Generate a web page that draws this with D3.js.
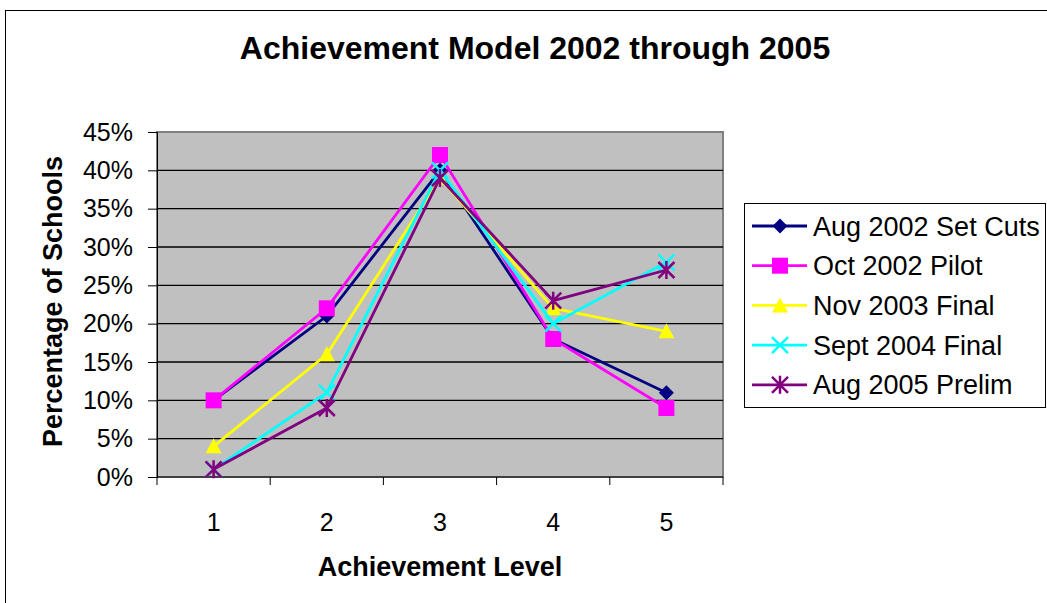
<!DOCTYPE html>
<html lang="en">
<head>
<meta charset="utf-8"/>
<title>Achievement Model</title>
<script src="https://d3js.org/d3.v7.min.js"></script>
<style>
  body { margin: 0; background: #fff; }
  svg text { font-family: "Liberation Sans", Arial, sans-serif; fill: #000; }
  .grid line { stroke: #000; stroke-width: 1.3px; }
  .axis .domain { stroke: #000; }
  .axis line { stroke: #000; }
</style>
</head>
<body>
<div id="chart"></div>
<script>
// data
var levels = ["1", "2", "3", "4", "5"];
var seriesNames = ["Aug 2002 Set Cuts", "Oct 2002 Pilot", "Nov 2003 Final", "Sept 2004 Final", "Aug 2005 Prelim"];
var aug2002 = [10, 21, 40, 18, 11];
var oct2002 = [10, 22, 42, 18, 9];
var nov2003 = [4, 16, 39, 22, 19];
var sep2004 = [1, 11, 40, 20, 28];
var aug2005 = [1, 9, 39, 23, 27];
var yTicks = [0, 5, 10, 15, 20, 25, 30, 35, 40, 45];

var colors = ["#000080", "#ff00ff", "#ffff00", "#00ffff", "#800080"];
var shapes = ["diamond", "square", "triangle", "x", "star"];
var allValues = [aug2002, oct2002, nov2003, sep2004, aug2005];

var series = seriesNames.map(function(n, i) {
  return { name: n, values: allValues[i], color: colors[i], shape: shapes[i] };
});

var width = 1047, height = 603;
var m = { top: 132, left: 157, right: 324, bottom: 126 };
var w = width - m.left - m.right,
    h = height - m.top - m.bottom;

var svg = d3.select("#chart").append("svg")
  .attr("width", width)
  .attr("height", height);

// outer chart border
svg.append("rect")
  .attr("x", 5.5).attr("y", 10.5)
  .attr("width", 1100).attr("height", 700)
  .attr("fill", "#fff").attr("stroke", "#000");

svg.append("text")
  .attr("x", 535).attr("y", 59)
  .attr("text-anchor", "middle")
  .attr("font-size", 32).attr("font-weight", "bold")
  .text("Achievement Model 2002 through 2005");

var g = svg.append("g").attr("transform", "translate(" + m.left + "," + m.top + ")");

var x = d3.scaleBand().domain(levels).range([0, w]);
var y = d3.scaleLinear().domain([0, 45]).range([h, 0]);

g.append("rect")
  .attr("width", w).attr("height", h)
  .attr("fill", "#c0c0c0")
  .attr("stroke", "#808080").attr("stroke-width", 2);

g.append("g").attr("class", "grid")
  .selectAll("line")
  .data(yTicks.slice(1, -1))
  .enter().append("line")
  .attr("x1", 0).attr("x2", w)
  .attr("y1", function(d) { return y(d); })
  .attr("y2", function(d) { return y(d); });

// y axis
var yAxis = g.append("g").attr("class", "axis")
  .call(d3.axisLeft(y).tickValues(yTicks).tickSize(9).tickPadding(15)
    .tickFormat(function(d) { return d + "%"; }));
yAxis.selectAll("text").attr("font-size", 25).attr("font-family", "Liberation Sans, Arial, sans-serif");

// x axis: ticks between categories
var xAxis = g.append("g").attr("class", "axis")
  .attr("transform", "translate(0," + h + ")");
xAxis.append("line").attr("x1", 0).attr("x2", w).attr("stroke", "#000");
xAxis.selectAll(".tk")
  .data(levels.concat(["end"]))
  .enter().append("line")
  .attr("x1", function(d, i) { return i * x.bandwidth(); })
  .attr("x2", function(d, i) { return i * x.bandwidth(); })
  .attr("y1", 0).attr("y2", 8).attr("stroke", "#000");
xAxis.selectAll(".lbl")
  .data(levels)
  .enter().append("text")
  .attr("x", function(d) { return x(d) + x.bandwidth() / 2; })
  .attr("y", 54)
  .attr("text-anchor", "middle")
  .attr("font-size", 25)
  .text(function(d) { return d; });

svg.append("text")
  .attr("x", m.left + w / 2).attr("y", 576)
  .attr("text-anchor", "middle")
  .attr("font-size", 27).attr("font-weight", "bold")
  .text("Achievement Level");

svg.append("text")
  .attr("transform", "translate(62," + (m.top + h / 2 - 3) + ") rotate(-90)")
  .attr("text-anchor", "middle")
  .attr("font-size", 27).attr("font-weight", "bold")
  .text("Percentage of Schools");

function drawMarker(sel, shape, color) {
  if (shape === "diamond") {
    sel.append("path").attr("d", "M0,-7.5L7.5,0L0,7.5L-7.5,0Z").attr("fill", color);
  } else if (shape === "square") {
    sel.append("rect").attr("x", -8).attr("y", -8).attr("width", 16).attr("height", 16).attr("fill", color);
  } else if (shape === "triangle") {
    sel.append("path").attr("d", "M0,-8L8,7L-8,7Z").attr("fill", color);
  } else if (shape === "x") {
    sel.append("path").attr("d", "M-8,-8L8,8M-8,8L8,-8").attr("stroke", color).attr("stroke-width", 2.5);
  } else {
    sel.append("path").attr("d", "M-8,-8L8,8M-8,8L8,-8M0,-9L0,9").attr("stroke", color).attr("stroke-width", 2.5);
  }
}

var line = d3.line()
  .x(function(d, i) { return x(levels[i]) + x.bandwidth() / 2; })
  .y(function(d) { return y(d); });

var sg = g.selectAll(".series")
  .data(series)
  .enter().append("g").attr("class", "series");

sg.append("path")
  .attr("d", function(d) { return line(d.values); })
  .attr("fill", "none")
  .attr("stroke", function(d) { return d.color; })
  .attr("stroke-width", 2.8);

sg.each(function(s) {
  d3.select(this).selectAll(".pt")
    .data(s.values)
    .enter().append("g")
    .attr("transform", function(d, i) {
      return "translate(" + (x(levels[i]) + x.bandwidth() / 2) + "," + y(d) + ")";
    })
    .each(function() { drawMarker(d3.select(this), s.shape, s.color); });
});

// legend
var legend = svg.append("g").attr("transform", "translate(744,203)");
legend.append("rect")
  .attr("x", 0.5).attr("y", 0.5)
  .attr("width", 301).attr("height", 204)
  .attr("fill", "#fff").attr("stroke", "#000");

var li = legend.selectAll(".item")
  .data(series)
  .enter().append("g")
  .attr("transform", function(d, i) { return "translate(0," + (23 + i * 39.7) + ")"; });
li.append("line")
  .attr("x1", 8).attr("x2", 63)
  .attr("stroke", function(d) { return d.color; })
  .attr("stroke-width", 2.8);
li.each(function(d) {
  var mk = d3.select(this).append("g").attr("transform", "translate(36,0)");
  drawMarker(mk, d.shape, d.color);
});
li.append("text")
  .attr("x", 69).attr("y", 9.5)
  .attr("font-size", 27)
  .text(function(d) { return d.name; });
</script>
</body>
</html>
